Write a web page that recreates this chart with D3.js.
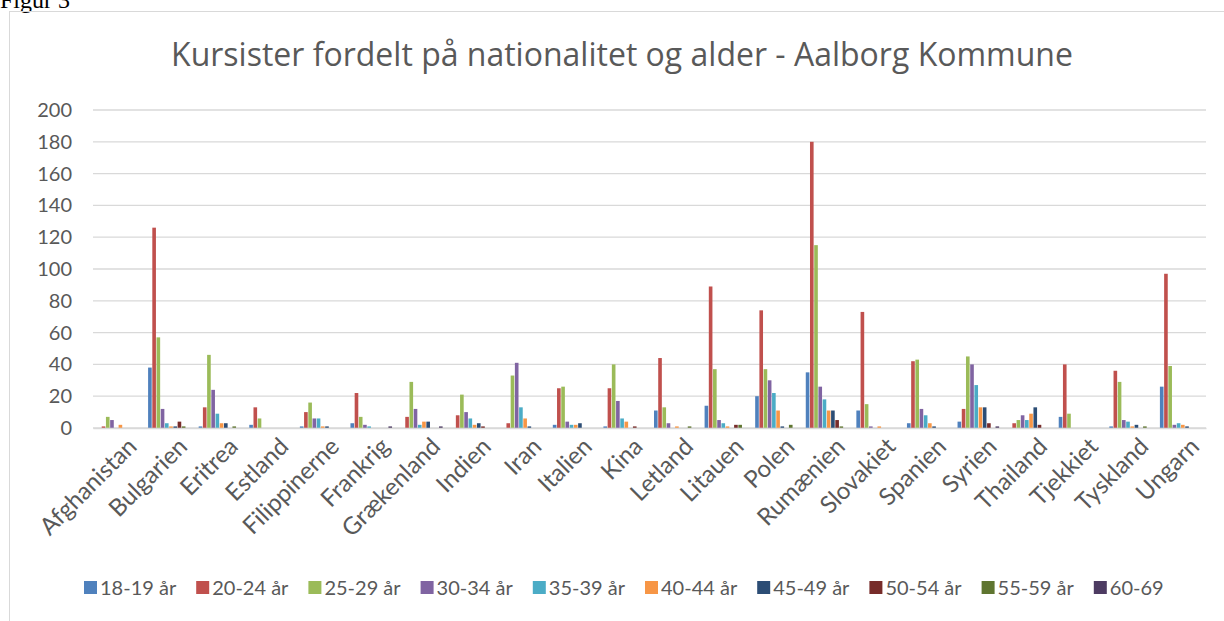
<!DOCTYPE html>
<html>
<head>
<meta charset="utf-8">
<script src="https://cdn.jsdelivr.net/npm/d3@7"></script>
<style>
  body { margin: 0; background: #fff; }
  svg { display: block; }
  text { font-family: Lato, "Open Sans", sans-serif; fill: #595959; }
</style>
</head>
<body>
<svg id="chart" width="1224" height="621"></svg>
<script>
// Kursister fordelt paa nationalitet og alder - grouped bars

const countries = ["Afghanistan", "Bulgarien", "Eritrea", "Estland", "Filippinerne", "Frankrig",
  "Grækenland", "Indien", "Iran", "Italien", "Kina", "Letland", "Litauen", "Polen",
  "Rumænien", "Slovakiet", "Spanien", "Syrien", "Thailand", "Tjekkiet", "Tyskland", "Ungarn"];

const ageGroups = ["18-19 år", "20-24 år", "25-29 år", "30-34 år", "35-39 år",
  "40-44 år", "45-49 år", "50-54 år", "55-59 år", "60-69"];

// one array per age group, in country order
const age1819 = [0, 38, 1, 2, 1, 3, 0, 0, 0, 2, 1, 11, 14, 20, 35, 11, 3, 4, 0, 7, 1, 26];
const age2024 = [1, 126, 13, 13, 10, 22, 7, 8, 3, 25, 25, 44, 89, 74, 180, 73, 42, 12, 3, 40, 36, 97];
const age2529 = [7, 57, 46, 6, 16, 7, 29, 21, 33, 26, 40, 13, 37, 37, 115, 15, 43, 45, 5, 9, 29, 39];
const age3034 = [5, 12, 24, 0, 6, 2, 12, 10, 41, 4, 17, 3, 5, 30, 26, 1, 12, 40, 8, 0, 5, 2];
const age3539 = [0, 3, 9, 0, 6, 1, 2, 6, 13, 2, 6, 0, 3, 22, 18, 0, 8, 27, 5, 0, 4, 3];
const age4044 = [2, 1, 3, 0, 1, 0, 4, 2, 6, 2, 4, 1, 1, 11, 11, 1, 3, 13, 9, 0, 1, 2];
const age4549 = [0, 1, 3, 0, 1, 0, 4, 3, 1, 3, 0, 0, 0, 1, 11, 0, 1, 13, 13, 0, 2, 1];
const age5054 = [0, 4, 0, 0, 0, 0, 0, 1, 0, 0, 1, 0, 2, 0, 5, 0, 0, 3, 2, 0, 0, 0];
const age5559 = [0, 1, 1, 0, 0, 0, 0, 0, 0, 0, 0, 1, 2, 2, 1, 0, 0, 0, 0, 0, 1, 0];
const age6069 = [0, 0, 0, 0, 0, 1, 1, 0, 0, 0, 0, 0, 0, 0, 0, 0, 0, 1, 0, 0, 0, 0];

const yTicks = [0, 20, 40, 60, 80, 100, 120, 140, 160, 180, 200];

const colors = ["#4F81BD", "#C0504D", "#9BBB59", "#8064A2", "#4BACC6",
  "#F79646", "#2C4D75", "#772C2A", "#5F7530", "#4D3B62"];

const seriesValues = [age1819, age2024, age2529, age3034, age3539,
  age4044, age4549, age5054, age5559, age6069];

// table for drawing: one row per country
const rows = countries.map((c, i) => ({
  country: c,
  values: ageGroups.map((a, j) => ({ age: a, value: seriesValues[j][i], color: colors[j] }))
}));

const svg = d3.select("#chart");

// document caption, cut off at the top like in the page
svg.append("text")
  .attr("x", 0).attr("y", 8)
  .style("font-family", "'Liberation Serif', serif")
  .style("fill", "#000")
  .attr("font-size", 24)
  .text("Figur 3");

// chart frame
svg.append("rect")
  .attr("x", 9.5).attr("y", 11.5)
  .attr("width", 1240).attr("height", 640)
  .attr("fill", "none")
  .attr("stroke", "#D9D9D9")
  .attr("stroke-width", 1);

// title
svg.append("text")
  .attr("x", 622).attr("y", 66)
  .attr("text-anchor", "middle")
  .attr("font-size", 32)
  .style("font-family", "'Open Sans', sans-serif")
  .text("Kursister fordelt på nationalitet og alder - Aalborg Kommune");

// scales
const x0 = d3.scaleBand().domain(countries).range([93, 1206]).padding(0);
const inset = x0.bandwidth() * 0.083;
const x1 = d3.scaleBand().domain(ageGroups).range([inset, x0.bandwidth() - inset]).padding(0);
const y = d3.scaleLinear().domain([0, 200]).range([428, 110]);

// gridlines
svg.append("g")
  .selectAll("line")
  .data(yTicks)
  .enter().append("line")
  .attr("x1", 93).attr("x2", 1206)
  .attr("y1", d => y(d)).attr("y2", d => y(d))
  .attr("stroke", "#D9D9D9")
  .attr("stroke-width", 1.3);

// y axis labels
const yAxis = svg.append("g")
  .attr("transform", "translate(72,0)")
  .call(d3.axisLeft(y).tickValues(yTicks).tickSize(0).tickPadding(0));
yAxis.select(".domain").remove();
yAxis.selectAll("text")
  .attr("font-size", 20)
  .style("font-family", "Lato, sans-serif")
  .attr("fill", "#595959");

// bars
const group = svg.append("g")
  .selectAll("g")
  .data(rows)
  .enter().append("g")
  .attr("transform", d => "translate(" + x0(d.country) + ",0)");

group.selectAll("rect")
  .data(d => d.values)
  .enter().append("rect")
  .attr("x", d => x1(d.age) + 0.3)
  .attr("width", x1.bandwidth() - 0.6)
  .attr("y", d => y(d.value))
  .attr("height", d => y(0) - y(d.value))
  .attr("fill", d => d.color);

// category labels, rotated
const xAxis = svg.append("g")
  .attr("transform", "translate(0,428)")
  .call(d3.axisBottom(x0).tickSize(0).tickPadding(0));
xAxis.select(".domain").attr("stroke", "#D9D9D9").attr("stroke-width", 1.3);
xAxis.selectAll("text")
  .attr("font-size", 24)
  .style("font-family", "Lato, sans-serif")
  .attr("fill", "#595959")
  .attr("text-anchor", "end")
  .attr("y", 0)
  .attr("dy", "0.35em")
  .attr("transform", "translate(14,14) rotate(-45)");

// legend
const legend = svg.append("g")
  .selectAll("g")
  .data(ageGroups)
  .enter().append("g")
  .attr("transform", (d, i) => "translate(" + (84 + i * 112.2) + ",581)");

legend.append("rect")
  .attr("width", 13).attr("height", 13)
  .attr("fill", (d, i) => colors[i]);

legend.append("text")
  .attr("x", 16).attr("y", 14)
  .attr("font-size", 20)
  .text(d => d);
</script>
</body>
</html>
